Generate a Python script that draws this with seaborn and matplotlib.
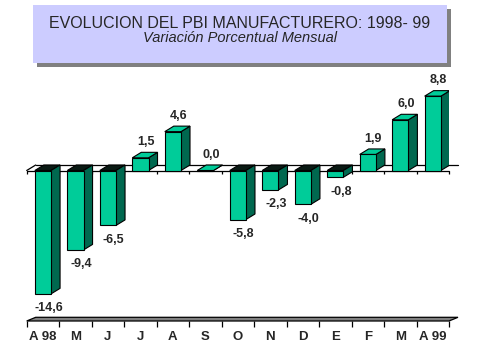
import numpy as np
import pandas as pd
import matplotlib
matplotlib.use("Agg")
import matplotlib.pyplot as plt
from matplotlib.patches import Polygon, Rectangle
import seaborn as sns

# Data
months = ["A 98", "M", "J", "J", "A", "S", "O", "N", "D", "E", "F", "M", "A 99"]
values = [-14.6, -9.4, -6.5, 1.5, 4.6, 0.0, -5.8, -2.3, -4.0, -0.8, 1.9, 6.0, 8.8]
title_line1 = "EVOLUCION DEL PBI MANUFACTURERO: 1998- 99"
title_line2 = "Variación Porcentual Mensual"

front_col = "#00CC99"
side_col = "#00684F"
top_neg_col = "#0A1A14"

sns.set_style("white")
plt.rcParams["font.family"] = ["Liberation Sans", "DejaVu Sans"]

df = pd.DataFrame({"pos": range(len(values)), "value": values})

W, H = 479, 359
fig = plt.figure(figsize=(W / 100, H / 100), dpi=100)

# axes placement (pixels -> figure fraction)
x_left, x_right = 26.7, 449.0
y_bot, y_top = 321.0, 85.0
ax = fig.add_axes([x_left / W, (H - y_bot) / H, (x_right - x_left) / W, (y_bot - y_top) / H])

zero_px = 170.5
px_per_unit = 8.45
ylo = -(y_bot - zero_px) / px_per_unit
yhi = (zero_px - y_top) / px_per_unit
cat_px = (x_right - x_left) / len(values)

# 3D depth in data units
dx = 9.0 / cat_px
dy = 5.5 / px_per_unit
dyf = 3.7 / px_per_unit

sns.barplot(data=df, x="pos", y="value", color=front_col, saturation=1,
            width=0.5, edgecolor="black", linewidth=0.8, ax=ax, zorder=5)

ax.set_xlim(-0.5, len(values) - 0.5)
ax.set_ylim(ylo, yhi)
for s in ax.spines.values():
    s.set_visible(False)
ax.set_yticks([])
ax.set_xlabel("")
ax.set_ylabel("")

# faces for each bar
for p, v in zip(ax.patches, values):
    x0 = p.get_x()
    x1 = x0 + p.get_width()
    if v >= 0:
        top = [(x0, v), (x1, v), (x1 + dx, v + dy), (x0 + dx, v + dy)]
        side = [(x1, 0), (x1 + dx, dy), (x1 + dx, v + dy), (x1, v)]
        ax.add_patch(Polygon(side, closed=True, facecolor=side_col, edgecolor="black",
                             linewidth=0.8, zorder=4))
        ax.add_patch(Polygon(top, closed=True, facecolor=front_col, edgecolor="black",
                             linewidth=0.8, zorder=4))
    else:
        top = [(x0, 0), (x1, 0), (x1 + dx, dy), (x0 + dx, dy)]
        side = [(x1, v), (x1 + dx, v + dy), (x1 + dx, dy), (x1, 0)]
        ax.add_patch(Polygon(top, closed=True, facecolor=top_neg_col, edgecolor="black",
                             linewidth=0.8, zorder=3))
        ax.add_patch(Polygon(side, closed=True, facecolor=side_col, edgecolor="black",
                             linewidth=0.8, zorder=4))

    label = f"{v:.1f}".replace(".", ",")
    xc = x0 + p.get_width() / 2 + 0.17
    if v > 0 or v == 0:
        ax.annotate(label, (xc, max(v, 0) + dy), xytext=(0, 3), textcoords="offset points",
                    ha="center", va="bottom", fontsize=9, fontweight="bold", zorder=6)
    else:
        ax.annotate(label, (xc, v), xytext=(0, -6), textcoords="offset points",
                    ha="center", va="top", fontsize=9, fontweight="bold", zorder=6)

# zero plane
n = len(values)
edges = np.arange(-0.5, n, 1.0)
ax.plot([-0.5, n - 0.5], [0, 0], color="black", lw=0.9, zorder=2, clip_on=False)
ax.plot([-0.5 + dx, n - 0.5 + dx], [dy, dy], color="black", lw=0.9, zorder=1, clip_on=False)
ax.plot([-0.5, -0.5 + dx], [0, dy], color="black", lw=0.9, zorder=1, clip_on=False)
ax.vlines(edges, -3.5 / px_per_unit, 0, color="black", lw=0.9, zorder=2, clip_on=False)

# floor
floor = [(-0.5, ylo), (n - 0.5, ylo), (n - 0.5 + dx, ylo + dyf), (-0.5 + dx, ylo + dyf)]
ax.add_patch(Polygon(floor, closed=True, facecolor="#808080", edgecolor="black",
                     linewidth=0.9, zorder=2, clip_on=False))

ax.set_xticks(edges)
ax.set_xticklabels([])
ax.tick_params(axis="x", which="major", length=4, width=0.9, color="black", direction="out", bottom=True)
ax.set_xticks(np.arange(n), minor=True)
ax.set_xticklabels(months, minor=True, fontsize=9.5, fontweight="bold")
ax.tick_params(axis="x", which="minor", length=0, pad=7, bottom=True)

# title box with shadow
bx0, bx1, by0, by1 = 33.3, 446.7, 5.0, 63.3
fig.patches.append(Rectangle(((bx0 + 4) / W, 1 - (by1 + 4) / H), (bx1 - bx0) / W, (by1 - by0) / H,
                             transform=fig.transFigure, facecolor="#808080", edgecolor="none", zorder=0))
fig.patches.append(Rectangle((bx0 / W, 1 - by1 / H), (bx1 - bx0) / W, (by1 - by0) / H,
                             transform=fig.transFigure, facecolor="#CCCCFF", edgecolor="none", zorder=1))
fig.text(240 / W, 1 - 28.3 / H, title_line1, ha="center", va="baseline", fontsize=11.5, zorder=3)
fig.text(240 / W, 1 - 41.7 / H, title_line2, ha="center", va="baseline", fontsize=10.5,
         style="italic", zorder=3)

fig.savefig("out.png", dpi=100)
